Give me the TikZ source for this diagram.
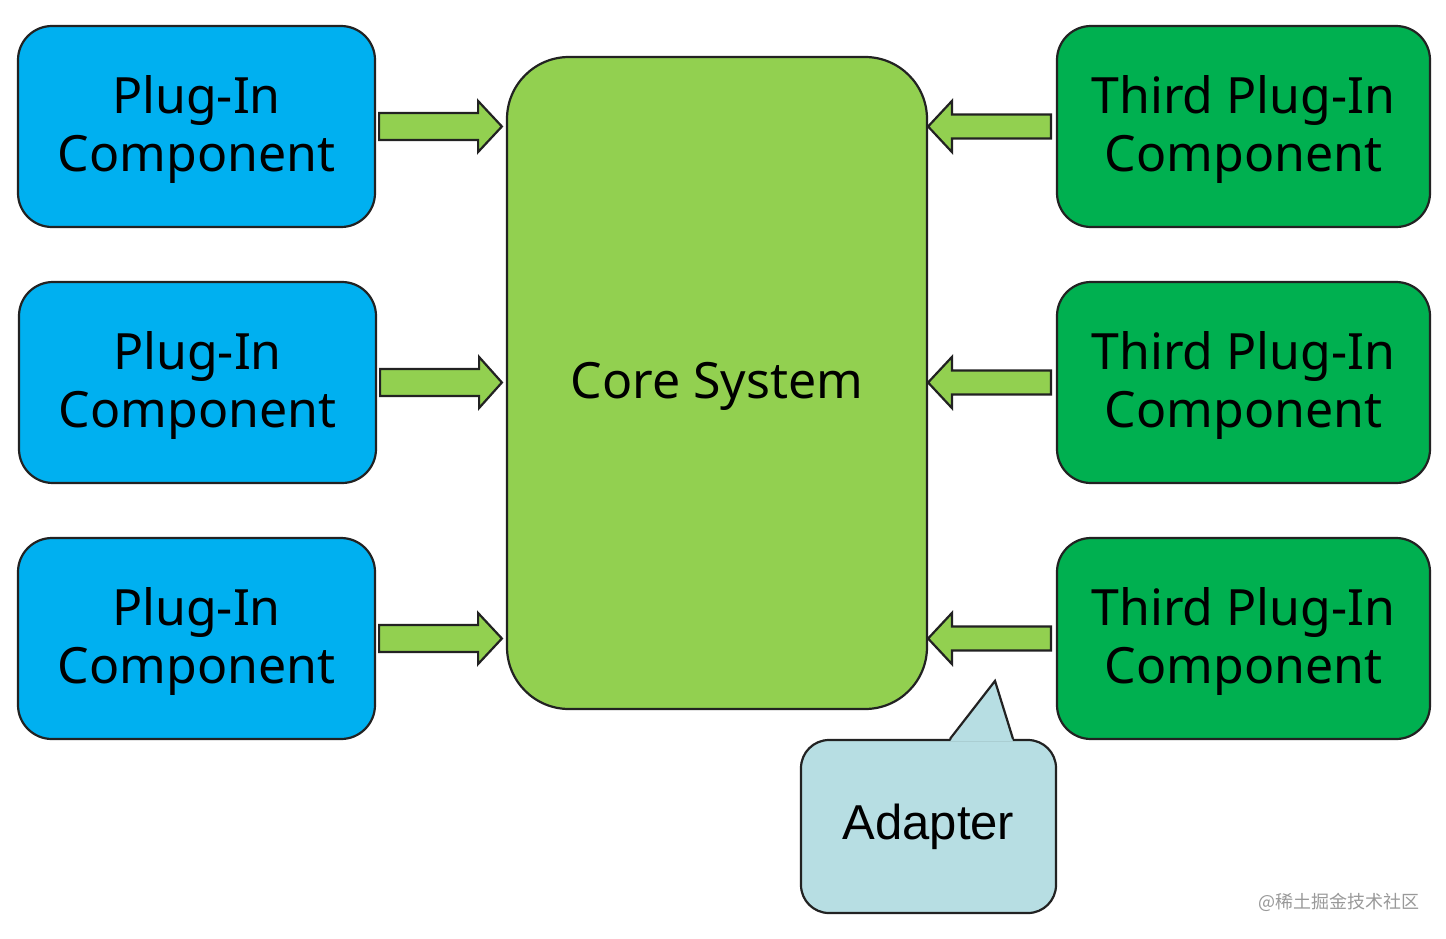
\documentclass[tikz,border=0pt]{standalone}
\usepackage{fontspec}
\setmainfont{Noto Sans}
\newfontfamily\adfont{Liberation Sans}
\newfontfamily\cjk{Noto Sans CJK SC}
\usetikzlibrary{calc}
\definecolor{plugblue}{HTML}{00B0F0}
\definecolor{thirdgreen}{HTML}{00B050}
\definecolor{coregreen}{HTML}{92D050}
\definecolor{adapterfill}{HTML}{B7DEE3}
\definecolor{edge}{HTML}{222222}
\tikzset{
  box/.style={draw=edge, line width=2.2pt, rounded corners=34pt, align=center,
    font=\fontsize{50}{58}\selectfont, text=black, inner sep=0pt},
  plugbox/.style={box, fill=plugblue, minimum width=357pt, minimum height=201pt, text depth=0pt},
  thirdbox/.style={box, fill=thirdgreen, minimum width=373pt, minimum height=201pt},
  corebox/.style={box, fill=coregreen, rounded corners=62pt, minimum width=420pt, minimum height=652pt},
  fat/.style={draw=edge, line width=2.2pt, fill=coregreen, line join=miter},
  lbl/.style={align=center, font=\fontsize{50}{58}\selectfont, text=black, inner sep=0pt},
}
\begin{document}
\begin{tikzpicture}[x=1pt,y=-1pt]
\useasboundingbox[fill=white] (0,0) rectangle (1446,938);
\node[plugbox] (p1) at (196.5,126.5) {};
\node[plugbox] (p2) at (197.5,382.5) {};
\node[plugbox] (p3) at (196.5,638.5) {};
\node[thirdbox] (t1) at (1243.5,126.5) {};
\node[thirdbox] (t2) at (1243.5,382.5) {};
\node[thirdbox] (t3) at (1243.5,638.5) {};
\node[corebox] (core) at (717,383) {};
\foreach \n in {p1,p2,p3}{\node[lbl] (\n l) at ($(\n.center)+(0,3)$) {Plug-In\\Component};}
\foreach \n in {t1,t2,t3}{\node[lbl] (\n l) at ($(\n.center)+(0,3)$) {Third Plug-In\\Component};}
\node[lbl] (corel) at ($(core.center)+(0,3)$) {Core System};
% left arrows
\foreach \n in {p1,p2,p3}{
  \draw[fat] ($(\n.east)+(3,-13.5)$) -- ($(\n.east)+(102,-13.5)$) -- ($(\n.east)+(102,-25.5)$)
    -- ($(core.west|-\n.east)+(-4,0)$) -- ($(\n.east)+(102,25.5)$) -- ($(\n.east)+(102,13.5)$)
    -- ($(\n.east)+(3,13.5)$) -- cycle;
}
% right arrows
\foreach \n in {t1,t2,t3}{
  \draw[fat] ($(\n.west)+(-5,-12)$) -- ($(\n.west)+(-104,-12)$) -- ($(\n.west)+(-104,-25.5)$)
    -- ($(core.east|-\n.west)+(0,0)$) -- ($(\n.west)+(-104,25.5)$) -- ($(\n.west)+(-104,12)$)
    -- ($(\n.west)+(-5,12)$) -- cycle;
}
% adapter callout
\node[box, fill=adapterfill, rounded corners=28pt, minimum width=255pt, minimum height=173pt,
  font=\adfont\fontsize{49}{56}\selectfont] (ad) at (928.5,826.5) {Adapter};
\fill[adapterfill] ($(ad.north)+(21.5,2.5)$) -- ($(ad.north)+(66.5,-58)$) -- ($(ad.north)+(84.5,2.5)$) -- cycle;
\draw[draw=edge, line width=2.2pt, line join=miter] ($(ad.north)+(21.5,0)$) -- ($(ad.north)+(66.5,-58)$) -- ($(ad.north)+(84.5,0)$);
% watermark
\node[text=black!40, font=\cjk\fontsize{18}{22}\selectfont, anchor=east, inner sep=0pt] (wm) at (1420,902) {@稀土掘金技术社区};
\end{tikzpicture}
\end{document}
